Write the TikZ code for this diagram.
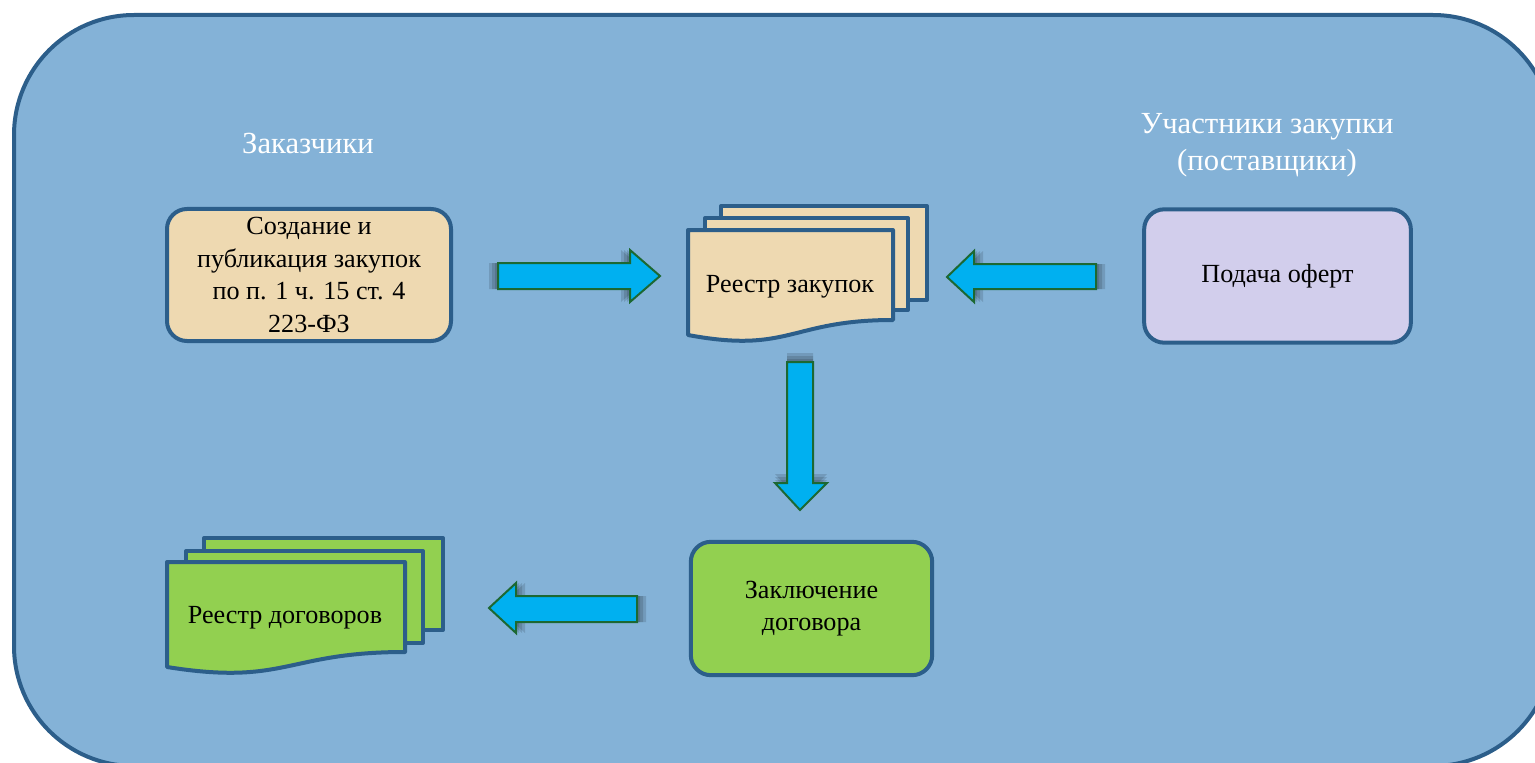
\documentclass[tikz,border=0pt]{standalone}
\usepackage{fontspec}
\setmainfont{Liberation Serif}
\usepackage{tikz}
\usetikzlibrary{positioning}
\definecolor{panelblue}{RGB}{132,178,215}
\definecolor{edgeblue}{RGB}{44,94,138}
\definecolor{wheatfill}{RGB}{238,217,177}
\definecolor{lavfill}{RGB}{210,206,236}
\definecolor{greenfill}{RGB}{146,208,80}
\definecolor{arrowcyan}{RGB}{0,176,240}
\definecolor{arrowedge}{RGB}{28,104,50}
\tikzstyle{box}=[draw=edgeblue, line width=3pt, rounded corners=15pt, align=center]
\tikzstyle{sheet}=[draw=edgeblue, line width=3pt, line join=round]
\tikzstyle{caption text}=[text=white, align=center, font=\fontsize{23}{27.5}\selectfont]
\tikzstyle{block arrow}=[fill=arrowcyan, draw=arrowedge, line width=1.5pt]
\tikzstyle{arrow shade}=[fill=black, opacity=0.13]

\begin{document}
\begin{tikzpicture}[x=0.75pt, y=-0.75pt, font=\fontsize{19.6}{24.5}\selectfont]
    \useasboundingbox (0,0) rectangle (1535,763);
    \clip (0,0) rectangle (1535,763);
    % panel
    \draw [draw=edgeblue, fill=panelblue, line width=3pt, rounded corners=90pt] (14,15) rectangle (1553,766);

    % captions
    \node [style=caption text] (buyers) at (308,143) {Заказчики};
    \node [style=caption text] (sellers) at (1267,145) {Участники закупки\\(поставщики)};

    % boxes
    \node [style=box, fill=wheatfill, minimum width=213pt, minimum height=99pt] (create) at (309,275) {Создание и\\публикация закупок\\по п. 1 ч. 15 ст. 4\\223-ФЗ};
    \node [style=box, fill=lavfill, minimum width=200pt, minimum height=100pt] (offer) at (1277.5,276) {Подача оферт};
    \node [style=box, fill=greenfill, minimum width=181pt, minimum height=100pt] (contract) at (811.5,608.5) {Заключение\\договора};

    % purchase register
    \draw [style=sheet, fill=wheatfill] (721,206) rectangle (927,300);
    \draw [style=sheet, fill=wheatfill] (705,218) rectangle (908,310);
    \draw [style=sheet, fill=wheatfill] (688,230) -- (893,230) -- (893,320) .. controls (790,320) and (790,354) .. (688,335) -- cycle;
    \node (purchreg) at (790,287) {Реестр закупок};

    % contract register
    \draw [style=sheet, fill=greenfill] (204,538) rectangle (443,630);
    \draw [style=sheet, fill=greenfill] (186,551) rectangle (423,643);
    \draw [style=sheet, fill=greenfill] (167,562) -- (405,562) -- (405,652) .. controls (286,652) and (286,686) .. (167,667) -- cycle;
    \node (contreg) at (285,618) {Реестр договоров};

    % arrows
    \foreach \s in {3,6,9}
        \fill [style=arrow shade, xshift=-\s*0.75pt] (498,263) -- (630,263) -- (630,250) -- (660,276) -- (630,302) -- (630,289) -- (498,289) -- cycle;
    \draw [style=block arrow] (498,263) -- (630,263) -- (630,250) -- (660,276) -- (630,302) -- (630,289) -- (498,289) -- cycle;

    \foreach \s in {3,6,9}
        \fill [style=arrow shade, xshift=\s*0.75pt] (1096,264) -- (974,264) -- (974,251) -- (947,277) -- (974,302) -- (974,289) -- (1096,289) -- cycle;
    \draw [style=block arrow] (1096,264) -- (974,264) -- (974,251) -- (947,277) -- (974,302) -- (974,289) -- (1096,289) -- cycle;

    \foreach \s in {3,6,9}
        \fill [style=arrow shade, yshift=\s*0.75pt] (787,362) -- (813,362) -- (813,483) -- (827,483) -- (800,510) -- (775,483) -- (787,483) -- cycle;
    \draw [style=block arrow] (787,362) -- (813,362) -- (813,483) -- (827,483) -- (800,510) -- (775,483) -- (787,483) -- cycle;

    \foreach \s in {3,6,9}
        \fill [style=arrow shade, xshift=\s*0.75pt] (637,596) -- (516,596) -- (516,583) -- (489,608) -- (516,633) -- (516,622) -- (637,622) -- cycle;
    \draw [style=block arrow] (637,596) -- (516,596) -- (516,583) -- (489,608) -- (516,633) -- (516,622) -- (637,622) -- cycle;
\end{tikzpicture}
\end{document}
